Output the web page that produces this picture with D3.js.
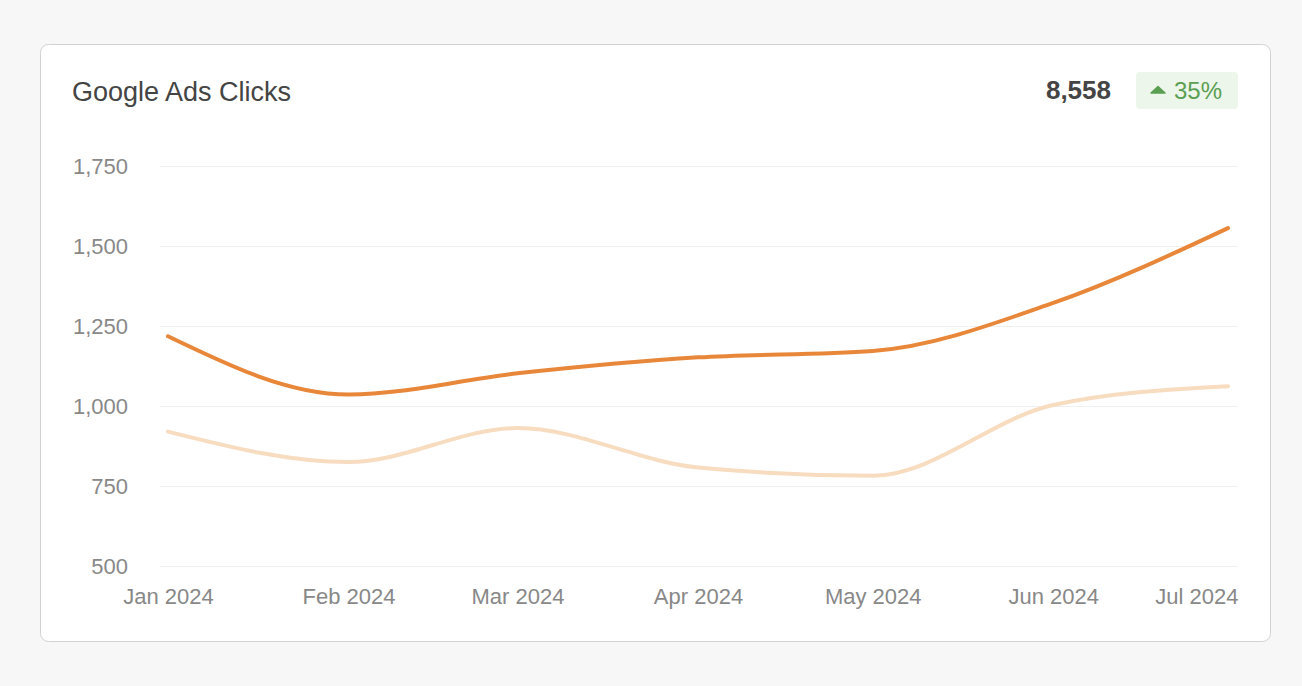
<!DOCTYPE html>
<html>
<head>
<meta charset="utf-8">
<script src="https://cdn.jsdelivr.net/npm/d3@7"></script>
<style>
  html, body { margin: 0; padding: 0; background: #f7f7f7; }
  svg { display: block; font-family: "Liberation Sans", Arial, Helvetica, sans-serif; }
</style>
</head>
<body>
<div id="chart"></div>
<script>
// Data
var months = ["2024-01-01", "2024-02-01", "2024-03-01", "2024-04-01", "2024-05-01", "2024-06-01", "2024-07-01"];
var current = [1218, 1036, 1102, 1152, 1172, 1322, 1556];
var previous = [920, 825, 931, 808, 782, 1003, 1062];
var yTicks = [500, 750, 1000, 1250, 1500, 1750];
var title = "Google Ads Clicks";
var total = "8,558";
var change = "35%";

const W = 1302, H = 686;
const svg = d3.select("#chart").append("svg").attr("width", W).attr("height", H);

// card
svg.append("rect")
  .attr("x", 40.5).attr("y", 44.5)
  .attr("width", 1230).attr("height", 597)
  .attr("rx", 8)
  .attr("fill", "#fff")
  .attr("stroke", "#d2d2d2");

svg.append("text")
  .attr("x", 72).attr("y", 101)
  .attr("font-size", 27).attr("fill", "#444")
  .text(title);

svg.append("text")
  .attr("x", 1111).attr("y", 99)
  .attr("text-anchor", "end")
  .attr("font-size", 26).attr("font-weight", "bold").attr("fill", "#454545")
  .text(total);

// change badge
svg.append("rect")
  .attr("x", 1136).attr("y", 72)
  .attr("width", 102).attr("height", 37)
  .attr("rx", 4)
  .attr("fill", "#edf6ea");
svg.append("path")
  .attr("d", "M1151,93 L1158,86.5 L1165,93 Z")
  .attr("fill", "#5a9f52")
  .attr("stroke", "#5a9f52").attr("stroke-width", 1.5).attr("stroke-linejoin", "round");
svg.append("text")
  .attr("x", 1222).attr("y", 99)
  .attr("text-anchor", "end")
  .attr("font-size", 24).attr("fill", "#5a9f52")
  .text(change);

// scales
const parse = d3.timeParse("%Y-%m-%d");
const dates = months.map(parse);
const x = d3.scaleTime()
  .domain([dates[0], dates[dates.length - 1]])
  .range([168, 1228]);
const y = d3.scaleLinear()
  .domain([500, 1750])
  .range([566, 166]);

// y axis with grid
const yAxis = svg.append("g")
  .attr("transform", "translate(160,0)")
  .call(d3.axisLeft(y)
    .tickValues(yTicks)
    .tickSize(-1078)
    .tickPadding(32)
    .tickFormat(d3.format(",")));
yAxis.select(".domain").remove();
yAxis.selectAll(".tick line").attr("stroke", "#f0f0f0").attr("stroke-width", 1);
yAxis.selectAll(".tick text")
  .attr("fill", "#888").attr("font-size", 22)
  .attr("font-family", "Liberation Sans, Arial, sans-serif");

// x axis
const xAxis = svg.append("g")
  .attr("transform", "translate(0,566)")
  .call(d3.axisBottom(x)
    .tickValues(dates)
    .tickSize(0)
    .tickPadding(22)
    .tickFormat(d3.timeFormat("%b %Y")));
xAxis.select(".domain").remove();
xAxis.selectAll(".tick text")
  .attr("fill", "#888").attr("font-size", 22)
  .attr("font-family", "Liberation Sans, Arial, sans-serif");
// keep last label inside the card
xAxis.selectAll(".tick text")
  .filter((d, i) => i === dates.length - 1)
  .attr("text-anchor", "end")
  .attr("x", 10);

// lines
const line = d3.line()
  .x((d, i) => x(dates[i]))
  .y(d => y(d))
  .curve(d3.curveMonotoneX);

svg.append("path")
  .datum(previous)
  .attr("d", line)
  .attr("fill", "none")
  .attr("stroke", "#f7dcc0")
  .attr("stroke-width", 4)
  .attr("stroke-linecap", "round");

svg.append("path")
  .datum(current)
  .attr("d", line)
  .attr("fill", "none")
  .attr("stroke", "#e8873a")
  .attr("stroke-width", 4)
  .attr("stroke-linecap", "round");
</script>
</body>
</html>
